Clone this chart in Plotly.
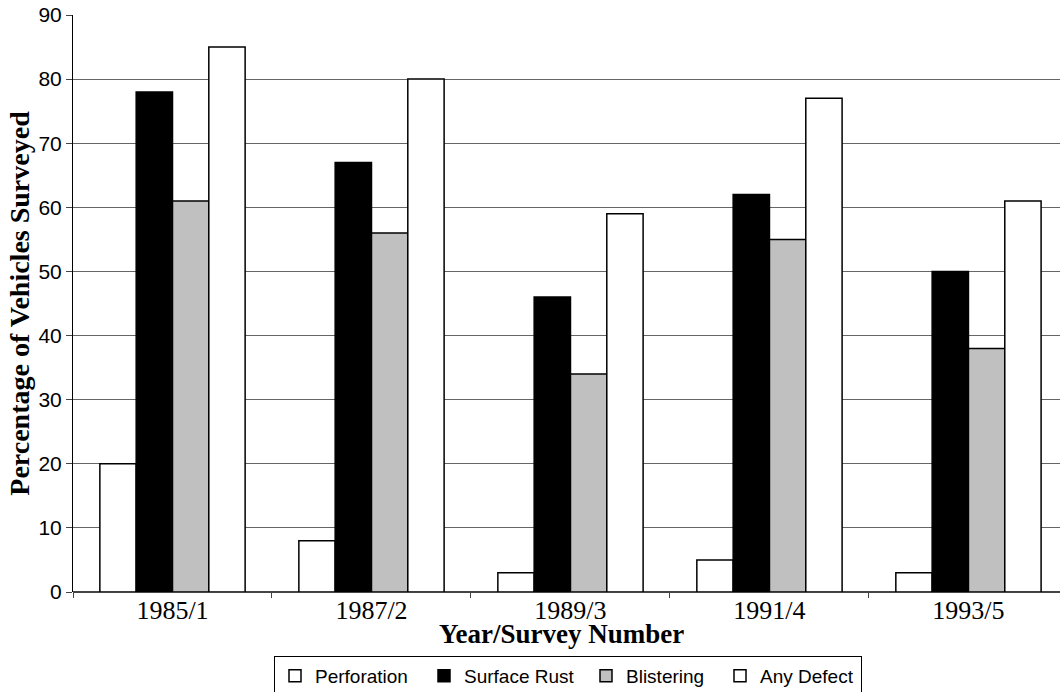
import plotly.graph_objects as go

surveys = ["1985/1", "1987/2", "1989/3", "1991/4", "1993/5"]
perforation = [20, 8, 3, 5, 3]
surface_rust = [78, 67, 46, 62, 50]
blistering = [61, 56, 34, 55, 38]
any_defect = [85, 80, 59, 77, 61]

# name, values, fill colour, legend entry width
series = [
    ("Perforation", perforation, "white", 104),
    ("Surface Rust", surface_rust, "black", 117),
    ("Blistering", blistering, "#c0c0c0", 89),
    ("Any Defect", any_defect, "white", 96),
]

fig = go.Figure()
for name, vals, color, lw in series:
    fig.add_trace(go.Bar(
        x=surveys, y=vals, name=name, legendwidth=lw,
        marker=dict(color=color, line=dict(color="black", width=1.5)),
    ))

serif = "Liberation Serif, Times New Roman, serif"
sans = "Liberation Sans, Arial, sans-serif"

fig.update_layout(
    width=1060, height=692,
    margin=dict(l=73, r=0, t=15, b=100),
    paper_bgcolor="white", plot_bgcolor="white",
    barmode="group", bargap=0.27, bargroupgap=0,
    font=dict(family=sans, color="black"),
    xaxis=dict(
        range=[-0.5, 4.46],
        tickfont=dict(family=serif, size=26, color="black"),
        ticks="outside", tickson="boundaries", ticklen=5, tickcolor="#444",
        showline=False, showgrid=False,
    ),
    yaxis=dict(
        range=[0, 90], dtick=10,
        tickfont=dict(family=sans, size=21, color="black"),
        ticks="outside", ticklen=6, tickcolor="#444",
        showline=True, linecolor="black", linewidth=1,
        showgrid=True, gridcolor="#666", gridwidth=1,
        zeroline=True, zerolinecolor="#444", zerolinewidth=1.5,
        title=dict(text="<b>Percentage of Vehicles Surveyed</b>",
                   font=dict(family=serif, size=28, color="black"), standoff=0),
    ),
    annotations=[dict(
        text="<b>Year/Survey Number</b>",
        xref="paper", yref="paper", x=0.4954, y=-0.073,
        xanchor="center", yanchor="middle", showarrow=False,
        font=dict(family=serif, size=27, color="black"),
    )],
    legend=dict(
        orientation="h", xref="container", yref="container",
        x=274 / 1060, xanchor="left", y=1 - 656 / 692, yanchor="top",
        font=dict(family=sans, size=19, color="black"),
        bordercolor="black", borderwidth=1, bgcolor="white",
        traceorder="normal",
    ),
)

fig.write_html("out.html")
